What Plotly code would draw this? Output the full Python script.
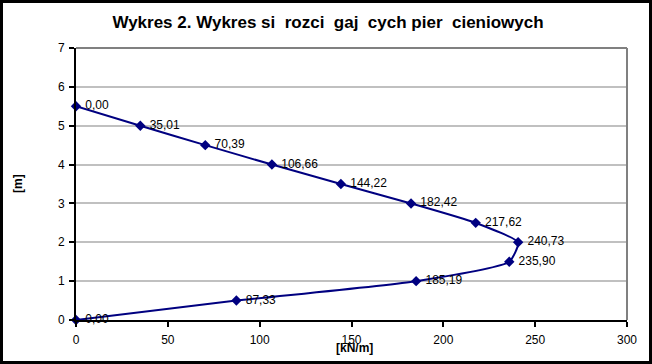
import plotly.graph_objects as go

force_kn_m = [0.00, 35.01, 70.39, 106.66, 144.22, 182.42, 217.62, 240.73, 235.90, 185.19, 87.33, 0.00]
height_m = [5.5, 5.0, 4.5, 4.0, 3.5, 3.0, 2.5, 2.0, 1.5, 1.0, 0.5, 0.0]
x_ticks = [0, 50, 100, 150, 200, 250, 300]
y_ticks = [0, 1, 2, 3, 4, 5, 6, 7]

labels = ["\u00a0" + ("%.2f" % v).replace(".", ",") for v in force_kn_m]

PW, PH = 551, 272
L, R, T, B = 76, 25, 48, 44

fig = go.Figure()
fig.add_trace(go.Scatter(
    x=force_kn_m, y=height_m, mode="lines+markers+text",
    line=dict(color="#000080", width=2, shape="spline", smoothing=0.5),
    marker=dict(symbol="diamond", size=8, color="#000080"),
    text=labels, textposition="middle right",
    textfont=dict(family="Liberation Sans, Arial", size=12, color="#000000"),
    cliponaxis=False, showlegend=False,
))

fig.update_layout(
    width=652, height=364,
    margin=dict(l=L, r=R, t=T, b=B),
    paper_bgcolor="white", plot_bgcolor="white",
    font=dict(family="Liberation Sans, Arial", size=12, color="#000000"),
    title=dict(text="<b>Wykres 2. Wykres si  rozci  gaj  cych pier  cieniowych</b>",
               x=(328 / 652), xanchor="center", y=1 - 22/364, yanchor="middle",
               font=dict(size=17, family="Liberation Sans, Arial")),
    xaxis=dict(range=[0, 300], tickvals=x_ticks, showgrid=False, zeroline=False,
               showline=True, linecolor="black", linewidth=2, ticks="outside",
               ticklen=5, tickwidth=2, tickcolor="black", mirror=False,
               ticklabelstandoff=3, tickfont=dict(size=12)),
    yaxis=dict(range=[0, 7], tickvals=y_ticks, showgrid=True, gridcolor="#c0c0c0",
               gridwidth=2, zeroline=False, showline=True, linecolor="black",
               linewidth=2, ticks="outside", ticklen=5, tickwidth=2,
               ticklabelstandoff=2, tickcolor="black", tickfont=dict(size=12)),
    shapes=[
        dict(type="line", xref="paper", yref="paper", x0=0, x1=1, y0=1, y1=1,
             line=dict(color="#808080", width=2)),
        dict(type="line", xref="paper", yref="paper", x0=1, x1=1, y0=0, y1=1,
             line=dict(color="#808080", width=2)),
        dict(type="rect", xref="paper", yref="paper",
             x0=-(L - 1.5)/PW, x1=1 + (R - 1.5)/PW, y0=-(B - 1.5)/PH, y1=1 + (T - 1.5)/PH,
             line=dict(color="black", width=3)),
    ],
    annotations=[
        dict(text="<b>[kN/m]</b>", xref="paper", yref="paper", x=(354 - L)/PW,
             y=-(348 - 320)/PH, xanchor="center", yanchor="middle", showarrow=False,
             font=dict(size=12)),
        dict(text="<b>[m]</b>", xref="paper", yref="paper", x=-(L - 18)/PW, y=0.5,
             textangle=-90, xanchor="center", yanchor="middle", showarrow=False,
             font=dict(size=12)),
    ],
)

fig.write_html("out.html", config={"displayModeBar": False},
               post_script="document.body.style.margin='0';")
